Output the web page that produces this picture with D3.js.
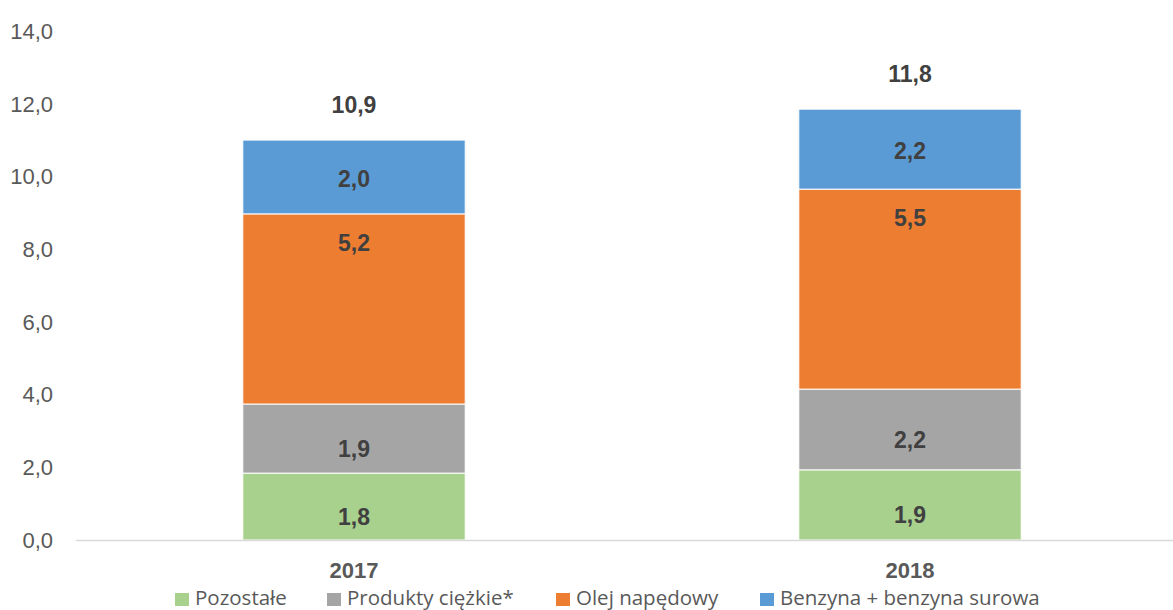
<!DOCTYPE html>
<html>
<head>
<meta charset="utf-8">
<script src="https://cdn.jsdelivr.net/npm/d3@7"></script>
<style>
  body { margin: 0; background: #fff; }
  svg { display: block; }
</style>
</head>
<body>
<div id="chart"></div>
<script>
var years = ['2017', '2018'];
var seriesNames = ['Pozostałe', 'Produkty ciężkie*', 'Olej napędowy', 'Benzyna + benzyna surowa'];
var seriesColors = ['#A9D18E', '#A5A5A5', '#ED7D31', '#5B9BD5'];
var pozostale = [1.84, 1.93];
var produktyCiezkie = [1.90, 2.22];
var olejNapedowy = [5.23, 5.50];
var benzyna = [2.03, 2.20];
var totals = [10.9, 11.8];
var yTicks = [0, 2, 4, 6, 8, 10, 12, 14];

var width = 1173;
var height = 610;
var margin = {top: 31, right: -15, bottom: 70, left: 76};

var svg = d3.select('#chart').append('svg')
  .attr('width', width)
  .attr('height', height);

var x = d3.scaleBand()
  .domain(years)
  .range([margin.left, width - margin.right])
  .paddingInner(0.6)
  .paddingOuter(0.3);

var y = d3.scaleLinear()
  .domain([0, 14])
  .range([height - margin.bottom, margin.top]);

var fmt = function (v) {
  return d3.format('.1f')(v).replace('.', ',');
};

var rows = years.map(function (yr, i) {
  return {
    year: yr,
    s0: pozostale[i],
    s1: produktyCiezkie[i],
    s2: olejNapedowy[i],
    s3: benzyna[i],
    total: totals[i]
  };
});

var stack = d3.stack().keys(['s0', 's1', 's2', 's3']);
var layers = stack(rows);

// y axis labels (no line, no ticks)
svg.append('g')
  .selectAll('text')
  .data(yTicks)
  .enter()
  .append('text')
  .attr('x', 53)
  .attr('y', function (d) { return y(d); })
  .attr('dy', '0.36em')
  .attr('text-anchor', 'end')
  .attr('font-family', 'Liberation Sans, Arial, sans-serif')
  .attr('font-size', 22)
  .attr('fill', '#595959')
  .text(fmt);

// bars
var layer = svg.append('g')
  .selectAll('g')
  .data(layers)
  .enter()
  .append('g')
  .attr('fill', function (d, i) { return seriesColors[i]; });

layer.selectAll('rect')
  .data(function (d) { return d; })
  .enter()
  .append('rect')
  .attr('x', function (d) { return x(d.data.year); })
  .attr('width', x.bandwidth())
  .attr('y', function (d) { return y(d[1]); })
  .attr('height', function (d) { return y(d[0]) - y(d[1]); })
  .attr('stroke', '#fff')
  .attr('stroke-width', 1);

// x axis line
svg.append('line')
  .attr('x1', margin.left)
  .attr('x2', width)
  .attr('y1', y(0) + 0.5)
  .attr('y2', y(0) + 0.5)
  .attr('stroke', '#D9D9D9')
  .attr('stroke-width', 1.5);

// segment labels
var labelShift = [10, 10, null, 2];
layer.each(function (L, si) {
  d3.select(this).selectAll('text')
    .data(L)
    .enter()
    .append('text')
    .attr('x', function (d) { return x(d.data.year) + x.bandwidth() / 2; })
    .attr('y', function (d) {
      if (labelShift[si] === null) {
        return y(d[1]) + 29;
      }
      return (y(d[0]) + y(d[1])) / 2 + labelShift[si];
    })
    .attr('dy', '0.36em')
    .attr('text-anchor', 'middle')
    .attr('font-family', 'Liberation Sans, Arial, sans-serif')
    .attr('font-weight', 'bold')
    .attr('font-size', 23)
    .attr('fill', '#404040')
    .text(function (d) { return fmt(d[1] - d[0]); });
});

// totals
svg.append('g')
  .selectAll('text')
  .data(layers[3])
  .enter()
  .append('text')
  .attr('x', function (d) { return x(d.data.year) + x.bandwidth() / 2; })
  .attr('y', function (d) { return y(d[1]) - 35; })
  .attr('dy', '0.36em')
  .attr('text-anchor', 'middle')
  .attr('font-family', 'Liberation Sans, Arial, sans-serif')
  .attr('font-weight', 'bold')
  .attr('font-size', 23)
  .attr('fill', '#404040')
  .text(function (d) { return fmt(d.data.total); });

// category labels
svg.append('g')
  .selectAll('text')
  .data(years)
  .enter()
  .append('text')
  .attr('x', function (d) { return x(d) + x.bandwidth() / 2; })
  .attr('y', 570)
  .attr('dy', '0.36em')
  .attr('text-anchor', 'middle')
  .attr('font-family', 'Liberation Sans, Arial, sans-serif')
  .attr('font-weight', 'bold')
  .attr('font-size', 22)
  .attr('fill', '#595959')
  .text(function (d) { return d; });

// legend
var legendX = [175, 327, 556, 760];
var legend = svg.append('g')
  .selectAll('g')
  .data(seriesNames)
  .enter()
  .append('g')
  .attr('transform', function (d, i) { return 'translate(' + legendX[i] + ',0)'; });

legend.append('rect')
  .attr('y', 593)
  .attr('width', 14)
  .attr('height', 13)
  .attr('fill', function (d, i) { return seriesColors[i]; });

legend.append('text')
  .attr('x', 20)
  .attr('y', 605)
  .attr('font-family', 'Open Sans, Noto Sans, sans-serif')
  .attr('font-size', 20.5)
  .attr('fill', '#595959')
  .text(function (d) { return d; });
</script>
</body>
</html>
